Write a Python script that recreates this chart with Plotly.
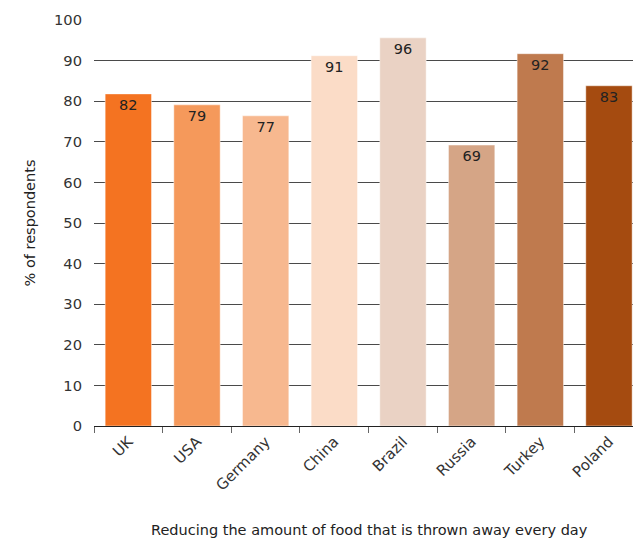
import plotly.graph_objects as go

countries = ["UK", "USA", "Germany", "China", "Brazil", "Russia", "Turkey", "Poland"]
heights = [81.8, 79.1, 76.4, 91.2, 95.6, 69.2, 91.7, 83.8]
labels = ["82", "79", "77", "91", "96", "69", "92", "83"]
colors = ["#F47321", "#F5995B", "#F7B88F", "#FBDCC7", "#EAD2C4", "#D5A586", "#BF7A4E", "#A54B10"]
y_ticks = [0, 10, 20, 30, 40, 50, 60, 70, 80, 90, 100]
x_title = "Reducing the amount of food that is thrown away every day"

FONT = "DejaVu Sans"

fig = go.Figure(go.Bar(
    x=countries, y=heights, text=labels,
    textposition="inside", insidetextanchor="end",
    textfont=dict(size=14.5, color="#222222", family=FONT),
    marker=dict(color=colors, line=dict(color="rgba(255,255,255,0.45)", width=1)),
    width=0.675, cliponaxis=False,
))

fig.add_annotation(
    text=x_title, xref="paper", yref="paper", x=0.512, y=0,
    yshift=-104, xanchor="center", yanchor="middle", showarrow=False,
    font=dict(size=14.5, color="#222222", family=FONT),
)

fig.update_layout(
    width=633, height=540,
    margin=dict(l=94, r=0, t=20, b=114),
    paper_bgcolor="white", plot_bgcolor="white",
    font=dict(family=FONT, color="#333333"),
    showlegend=False,
    xaxis=dict(
        range=[-0.5, 7.35], tickangle=-45, tickson="boundaries",
        ticks="outside", ticklen=6, tickcolor="#666666",
        showline=True, linecolor="#222222", linewidth=1,
        tickfont=dict(size=15, color="#333333"),
    ),
    yaxis=dict(
        range=[0, 100], tickvals=y_ticks, showgrid=True,
        gridcolor="#4a4a4a", gridwidth=1, zeroline=False,
        tickfont=dict(size=14.7, color="#333333"), ticks="", ticklabelstandoff=11,
        title=dict(text="% of respondents", font=dict(size=14.5, color="#222222"), standoff=14),
    ),
)

fig.write_html("out.html")
